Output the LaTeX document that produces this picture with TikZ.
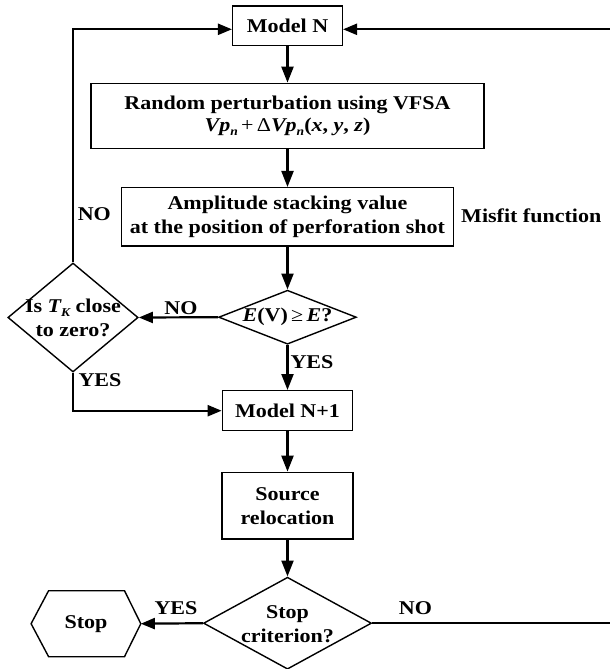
\documentclass[tikz,border=0pt]{standalone}
\usepackage{fontspec}
\setmainfont{Liberation Serif}[FakeStretch=1.13]
\usetikzlibrary{shapes.geometric,arrows.meta}
\newcommand{\mysub}[1]{\raisebox{-0.4ex}{\fontsize{12}{12}\selectfont #1}}
\tikzset{
  every node/.style={font=\fontsize{19.5}{24}\selectfont\bfseries},
  box/.style={draw, line width=1.4pt, inner sep=0pt, align=center},
  dia/.style={draw, diamond, line width=1.4pt, inner sep=0pt},
  lbl/.style={inner sep=0pt, align=center},
  varr/.style={line width=2.2pt, -{Triangle[length=16pt,width=12pt]}},
  harr/.style={line width=2.2pt, -{Triangle[length=14pt,width=11pt]}},
  plain/.style={line width=2.2pt}
}
\begin{document}
\begin{tikzpicture}[x=1pt,y=-1pt]
\useasboundingbox (0,0) rectangle (610,669);
% boxes
\node[box, minimum width=109.7pt, minimum height=39.7pt] (modelN) at (287.5,25.8) {Model N};
\node[box, minimum width=393pt, minimum height=65pt] (rand) at (287.5,115.8)
  {Random perturbation using VFSA\\[-2pt]
   \itshape Vp\mysub{n}\upshape\,\mdseries+\,Δ\bfseries\itshape Vp\mysub{n}\upshape(\itshape x\upshape, \itshape y\upshape, \itshape z\upshape)};
\node[box, minimum width=331.8pt, minimum height=58.3pt] (amp) at (287.5,216.8)
  {Amplitude stacking value\\at the position of perforation shot};
\node[lbl, anchor=west] (misfit) at (461,216) {Misfit function};
\node[dia, minimum width=137.7pt, minimum height=54pt] (evd) at (287.5,317.2) {};
\node[lbl] (evt) at (287.5,317.2) {\itshape E\upshape(V)\,\mdseries≥\,\bfseries\itshape E\upshape ?};
\node[dia, minimum width=130.3pt, minimum height=109pt] (tkd) at (73,317.5) {};
\node[lbl] (tkt) at (73,318) {Is \itshape T\mysub{K}\upshape\ close\\to zero?};
\node[box, minimum width=130.3pt, minimum height=40pt] (model1) at (287.5,410.7) {Model N+1};
\node[box, minimum width=131.2pt, minimum height=66.7pt] (src) at (287.5,505.7) {Source\\relocation};
\node[dia, minimum width=168pt, minimum height=92pt] (stopd) at (287.5,623.2) {};
\node[lbl] (stopt) at (287.5,624) {Stop\\criterion?};
% hexagon
\draw[line width=1.4pt] (31.1,623.7) -- (48.6,590.7) -- (124.5,590.7) -- (140.8,623.7) -- (124.5,656.7) -- (48.6,656.7) -- cycle;
\node[lbl] (stop) at (86,624) {Stop};
\coordinate (stopR) at (140.8,623.7);
\coordinate (farright) at (618,29.3);
% labels
\node[lbl] (no1) at (94.3,214) {NO};
\node[lbl] (no2) at (181,308) {NO};
\node[lbl] (yes1) at (312,361.7) {YES};
\node[lbl] (yes2) at (100,380) {YES};
\node[lbl] (yes3) at (176,608) {YES};
\node[lbl] (no3) at (415.5,608) {NO};
% connectors
\draw[varr] (modelN) -- (rand);
\draw[varr] (rand) -- (amp);
\draw[varr] (amp) -- (evd.north);
\draw[harr] (evd.west) -- (tkd.east);
\draw[varr] (evd.south) -- (model1);
\draw[harr] (tkd.south) |- (model1.west);
\draw[harr] (tkd.north) |- ([yshift=-3.5pt]modelN.west);
\draw[varr] (model1) -- (src);
\draw[varr] (src) -- (stopd.north);
\draw[harr] (stopd.west) -- (stopR);
\draw[harr] (stopd.east) -| (farright) -- ([yshift=-3.5pt]modelN.east);
\end{tikzpicture}
\end{document}
